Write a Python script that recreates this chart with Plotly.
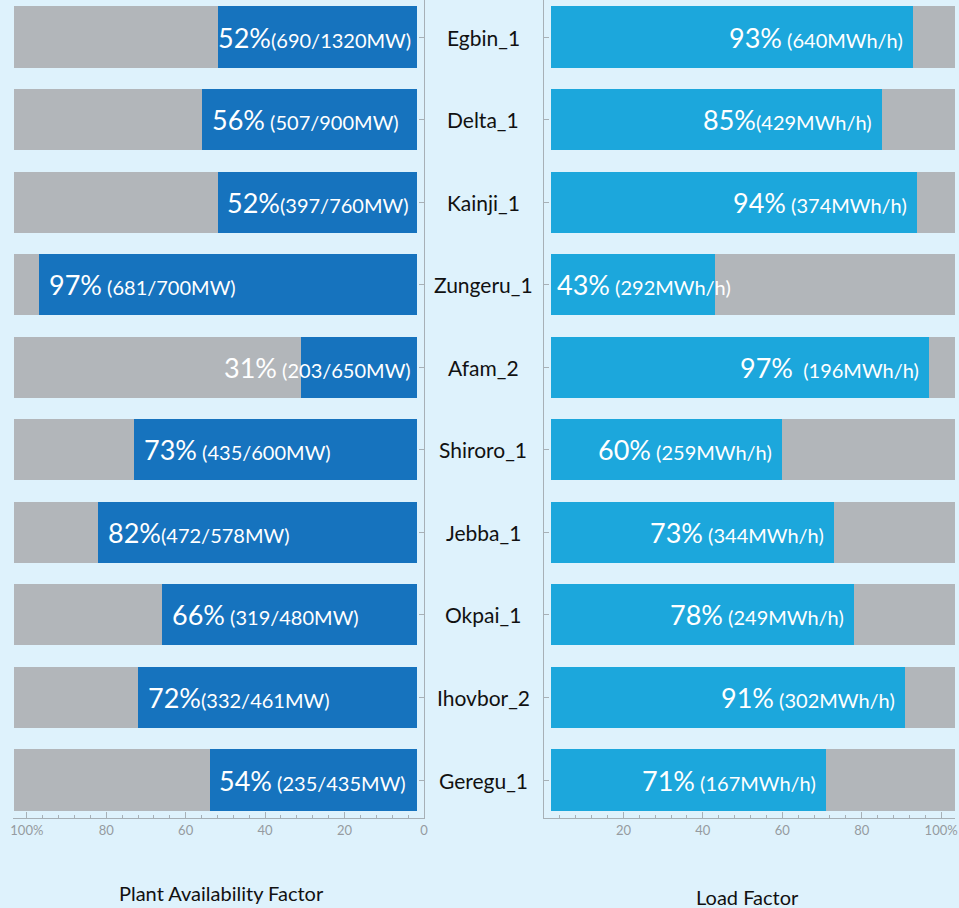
import plotly.graph_objects as go

# ---- data ----
plants = ["Egbin_1", "Delta_1", "Kainji_1", "Zungeru_1", "Afam_2",
          "Shiroro_1", "Jebba_1", "Okpai_1", "Ihovbor_2", "Geregu_1"]
availability_pct = [52, 56, 52, 97, 31, 73, 82, 66, 72, 54]
available_mw = [690, 507, 397, 681, 203, 435, 472, 319, 332, 235]
capacity_mw = [1320, 900, 760, 700, 650, 600, 578, 480, 461, 435]
load_factor_pct = [93, 85, 94, 43, 97, 60, 73, 78, 91, 71]
energy_mwh = [640, 429, 374, 292, 196, 259, 344, 249, 302, 167]
left_sep = ["", " ", "", " ", " ", " ", "", " ", "", " "]
right_sep = [" ", "", " ", " ", "  ", " ", " ", " ", " ", " "]
left_ticks = [0, 20, 40, 60, 80, 100]
left_ticktext = ["0", "20", "40", "60", "80", "100%"]
right_ticks = [20, 40, 60, 80, 100]
right_ticktext = ["20", "40", "60", "80", "100%"]

# ---- style / layout constants ----
W, H = 959, 908
BG = "#def2fc"
GRAY = "#b2b6ba"
BLUE_L = "#1673be"
BLUE_R = "#1ca7dc"
AXIS_C = "#a7b0b6"
FONT = "Lato"
AX_MAX = 103.5
GAP = 1.75
L_X0, L_X1 = 10, 424
R_X0, R_X1 = 545, 959
Y_BOTTOM = 818
PCT_SIZE = 27
DET_SIZE = 20
PX_PER_UNIT = (L_X1 - L_X0) / AX_MAX

n = len(plants)
ys = list(range(n))
unit_px = (780 - 37) / (n - 1)
y_top = -37 / unit_px
y_bot = (Y_BOTTOM - 37) / unit_px


def est_width(pct, det):
    w = 0
    for ch in pct:
        w += (0.82 if ch == "%" else 0.58) * PCT_SIZE
    for ch in det:
        if ch in "MW":
            w += 0.9 * DET_SIZE
        elif ch in "()/":
            w += 0.33 * DET_SIZE
        elif ch == " ":
            w += 0.25 * DET_SIZE
        else:
            w += 0.56 * DET_SIZE
    return w


def label(pct, det):
    return (f"<span style='font-size:{PCT_SIZE}px'>{pct}</span>"
            f"<span style='font-size:{DET_SIZE}px'>{det}</span>")


fig = go.Figure()

fig.add_trace(go.Bar(y=ys, x=[AX_MAX - 0.3 - GAP] * n, base=GAP, orientation="h",
                     marker=dict(color=GRAY, line=dict(width=0)), width=0.74,
                     xaxis="x", yaxis="y", hoverinfo="skip", showlegend=False))
fig.add_trace(go.Bar(y=ys, x=[v - GAP for v in availability_pct], base=GAP,
                     orientation="h", marker=dict(color=BLUE_L, line=dict(width=0)),
                     width=0.74, xaxis="x", yaxis="y", showlegend=False))
fig.add_trace(go.Bar(y=ys, x=[AX_MAX + 5 - GAP] * n, base=GAP, orientation="h",
                     marker=dict(color=GRAY, line=dict(width=0)), width=0.74,
                     xaxis="x2", yaxis="y2", hoverinfo="skip", showlegend=False))
fig.add_trace(go.Bar(y=ys, x=[v - GAP for v in load_factor_pct], base=GAP,
                     orientation="h", marker=dict(color=BLUE_R, line=dict(width=0)),
                     width=0.74, xaxis="x2", yaxis="y2", showlegend=False))

annotations = []
for i in range(n):
    pct = f"{availability_pct[i]}%"
    det = f"{left_sep[i]}({available_mw[i]}/{capacity_mw[i]}MW)"
    bar_px = (availability_pct[i] - GAP) * PX_PER_UNIT
    fits = est_width(pct, det) + 14 <= bar_px
    if fits:
        annotations.append(dict(x=availability_pct[i], y=i, xref="x", yref="y",
                                xanchor="left", xshift=8, yanchor="middle",
                                text=label(pct, det), showarrow=False,
                                font=dict(color="white", family=FONT)))
    else:
        annotations.append(dict(x=GAP, y=i, xref="x", yref="y",
                                xanchor="right", xshift=-4, yanchor="middle",
                                text=label(pct, det), showarrow=False,
                                font=dict(color="white", family=FONT)))
    pct = f"{load_factor_pct[i]}%"
    det = f"{right_sep[i]}({energy_mwh[i]}MWh/h)"
    bar_px = (load_factor_pct[i] - GAP) * PX_PER_UNIT
    fits = est_width(pct, det) + 14 <= bar_px
    if fits:
        annotations.append(dict(x=load_factor_pct[i], y=i, xref="x2", yref="y2",
                                xanchor="right", xshift=-8, yanchor="middle",
                                text=label(pct, det), showarrow=False,
                                font=dict(color="white", family=FONT)))
    else:
        annotations.append(dict(x=GAP, y=i, xref="x2", yref="y2",
                                xanchor="left", xshift=4, yanchor="middle",
                                text=label(pct, det), showarrow=False,
                                font=dict(color="white", family=FONT)))
    annotations.append(dict(x=484 / W, y=i, xref="paper", yref="y",
                            xanchor="center", yanchor="middle", text=plants[i],
                            showarrow=False,
                            font=dict(color="#111111", size=21, family=FONT)))

annotations.append(dict(x=220 / W, y=1 - 893 / H, xref="paper", yref="paper",
                        xanchor="center", yanchor="middle",
                        text="Plant Availability Factor", showarrow=False,
                        font=dict(color="#111111", size=20, family=FONT)))
annotations.append(dict(x=750 / W, y=1 - 897 / H, xref="paper", yref="paper",
                        xanchor="center", yanchor="middle",
                        text="Load Factor", showarrow=False,
                        font=dict(color="#111111", size=20, family=FONT)))

y_dom = [1 - Y_BOTTOM / H, 1]
common_x = dict(showgrid=False, zeroline=False, showline=True, linecolor=AXIS_C,
                linewidth=1, ticks="inside", ticklen=6, tickcolor=AXIS_C,
                tickfont=dict(size=13, color="#959ba0", family=FONT),
                tickmode="array",
                minor=dict(tickmode="linear", tick0=0, dtick=4, ticks="inside",
                           ticklen=3, tickcolor=AXIS_C, showgrid=False),
                fixedrange=True)
common_y = dict(showgrid=False, zeroline=False, showline=True, linecolor=AXIS_C,
                linewidth=1, ticks="inside", ticklen=5, tickcolor=AXIS_C,
                tickmode="array", tickvals=ys, showticklabels=False,
                range=[y_bot, y_top], domain=y_dom, fixedrange=True)

fig.update_layout(
    width=W, height=H,
    margin=dict(l=0, r=0, t=0, b=0),
    paper_bgcolor=BG, plot_bgcolor=BG,
    barmode="overlay", bargap=0,
    font=dict(family=FONT),
    xaxis=dict(common_x, domain=[L_X0 / W, L_X1 / W], range=[AX_MAX, 0],
               tickvals=left_ticks, ticktext=left_ticktext, anchor="y"),
    xaxis2=dict(common_x, domain=[R_X0 / W, R_X1 / W], range=[0, AX_MAX],
                tickvals=right_ticks, ticktext=right_ticktext, anchor="y2"),
    yaxis=dict(common_y, anchor="x", side="right"),
    yaxis2=dict(common_y, anchor="x2", side="left"),
    annotations=annotations,
)

fig.write_html(
    "out.html",
    config={"displayModeBar": False},
    post_script="document.body.style.margin='0';"
                "document.body.style.overflow='hidden';"
                "document.body.style.background='" + BG + "';",
)
